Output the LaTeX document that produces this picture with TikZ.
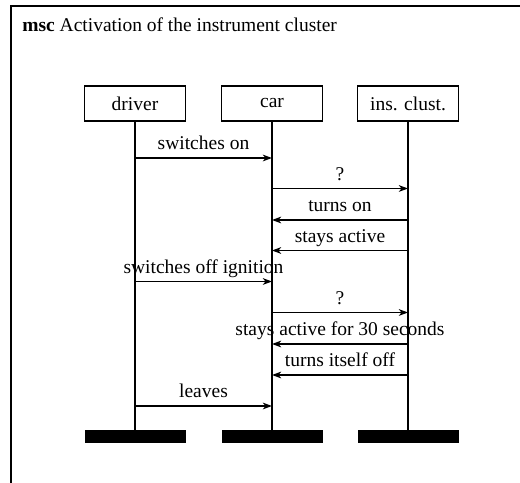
\documentclass[tikz,border=0pt]{standalone}
\usepackage{fontspec}
\setmainfont{Liberation Serif}
\usetikzlibrary{arrows.meta,positioning}
\tikzset{>={Stealth[length=5.5pt,width=4pt,inset=1.6pt]},line width=.6pt,
  every node/.style={font=\fontsize{11.7}{14}\selectfont},
  frame/.style={draw,line width=1.2pt},
  instbox/.style={draw,line width=.7pt,minimum width=60.6pt,minimum height=21pt,inner sep=0pt},
  endbar/.style={fill=black,minimum width=60.6pt,minimum height=8pt,inner sep=0pt},
  lifeline/.style={draw,line width=.9pt},
  msg/.style={->,line width=.8pt},
  msglabel/.style={anchor=base,yshift=5pt,inner sep=0pt}}
\begin{document}
\begin{tikzpicture}[x=.6pt,y=-.6pt]
\useasboundingbox(0,0)rectangle(520,483);
\draw[frame](11,483)|-(520,6);
\node[anchor=base west,inner sep=0pt](title)at(22,31.7){\textbf{msc} Activation of the instrument cluster};
% instances
\node[instbox](drv)at(135,103.5){driver};
\node[instbox](car)at(272,103.5){car};
\node[instbox](ins)at(408,103.5){ins. clust.};
\node[endbar](drv-end)at(135,436.7){};
\node[endbar](car-end)at(272,436.7){};
\node[endbar](ins-end)at(408,436.7){};
\foreach \n in {drv,car,ins}{\draw[lifeline](\n.south)--(\n-end.north);}
% messages
\foreach \i/\y/\a/\b/\t in {1/158/drv/car/switches on,2/188.5/car/ins/?,3/220/ins/car/turns on,
  4/250.5/ins/car/stays active,5/281.5/drv/car/switches off ignition,6/312.5/car/ins/?,
  7/344/ins/car/stays active for 30 seconds,8/375/ins/car/turns itself off,9/406/drv/car/leaves}
  {\coordinate(m\i)at(0,\y);\draw[msg](\a|-m\i)--node[msglabel]{\t}(\b|-m\i);}
\end{tikzpicture}
\end{document}
